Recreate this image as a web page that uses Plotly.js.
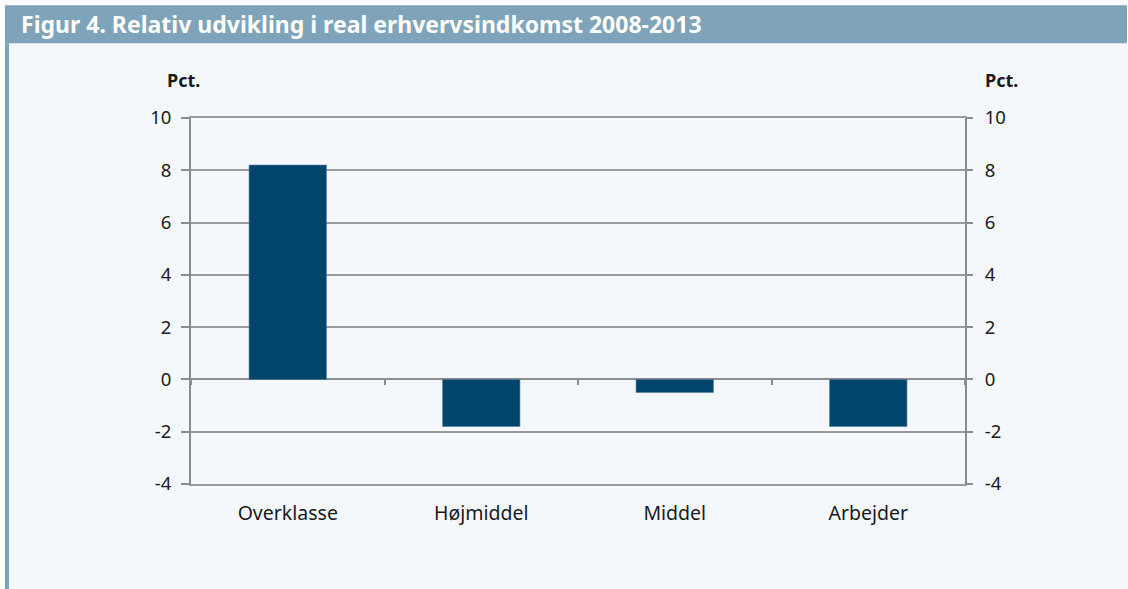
<!DOCTYPE html>
<html>
<head>
<meta charset="utf-8">
<script src="https://cdn.plot.ly/plotly-3.0.1.min.js"></script>
<style>
  html, body { margin: 0; padding: 0; background: #ffffff; }
  #chart { width: 1128px; height: 589px; }
</style>
</head>
<body>
<div id="chart"></div>
<script>
// ---- data ----
const categories = ["Overklasse", "Højmiddel", "Middel", "Arbejder"];
const values = [8.2, -1.8, -0.5, -1.8];
const tickVals = [-4, -2, 0, 2, 4, 6, 8, 10];
const titleText = "Figur 4. Relativ udvikling i real erhvervsindkomst 2008-2013";
const unitLabel = "Pct.";

// ---- styles ----
const W = 1128, H = 589;
const L = 191, R = 965, T = 117.8, B = 484.3;
const pw = R - L, ph = B - T;
const px = x => (x - L) / pw;          // pixel -> paper x
const py = y => (B - y) / ph;          // pixel -> paper y
const barColor = "#00456b";
const headerColor = "#7fa3b8";
const bgColor = "#f4f8fc";
const gridColor = "#9b9b9b";
const axisColor = "#8c8c8c";
const textColor = "#1a1a1a";
const fontFam = "'Noto Sans', Lato, sans-serif";

const traces = [
  {
    type: "bar",
    x: categories,
    y: values,
    width: 0.4,
    marker: { color: barColor, line: { color: "#4f7f9c", width: 0.6 } },
    hoverinfo: "x+y",
    xaxis: "x",
    yaxis: "y"
  },
  {
    type: "scatter",
    mode: "lines",
    x: categories,
    y: values,
    line: { color: "rgba(0,0,0,0)" },
    hoverinfo: "skip",
    showlegend: false,
    xaxis: "x2",
    yaxis: "y2"
  }
];

const yCommon = {
  range: [-4, 10],
  tickvals: tickVals,
  ticktext: tickVals.map(String),
  ticks: "outside",
  ticklen: 8,
  tickwidth: 1.6,
  tickcolor: axisColor,
  showline: true,
  linecolor: axisColor,
  linewidth: 2,
  tickfont: { family: fontFam, size: 18.5, color: textColor },
  fixedrange: true
};

const layout = {
  width: W,
  height: H,
  margin: { l: L, r: W - R, t: T, b: H - B, pad: 0 },
  paper_bgcolor: "#ffffff",
  plot_bgcolor: "rgba(0,0,0,0)",
  showlegend: false,
  font: { family: fontFam, color: textColor },
  xaxis: {
    type: "category",
    range: [-0.5, categories.length - 0.5],
    showgrid: false,
    showline: true,
    mirror: true,
    linecolor: gridColor,
    linewidth: 1.6,
    zeroline: false,
    ticks: "",
    ticklabelstandoff: 11,
    tickfont: { family: fontFam, size: 19.5, color: textColor },
    fixedrange: true
  },
  xaxis2: {
    type: "category",
    overlaying: "x",
    matches: "x",
    anchor: "free",
    position: (0 - (-4)) / 14,
    showgrid: false,
    showline: false,
    zeroline: false,
    showticklabels: false,
    ticks: "outside",
    tickson: "boundaries",
    ticklen: 5,
    tickwidth: 1.6,
    tickcolor: axisColor,
    fixedrange: true
  },
  yaxis: Object.assign({}, yCommon, {
    side: "left",
    showgrid: true,
    gridcolor: gridColor,
    gridwidth: 1.6,
    zeroline: true,
    zerolinecolor: axisColor,
    zerolinewidth: 2,
    ticklabelstandoff: 6
  }),
  yaxis2: Object.assign({}, yCommon, {
    side: "right",
    overlaying: "y",
    anchor: "x",
    ticklen: 6,
    showgrid: false,
    zeroline: false,
    ticklabelstandoff: 8
  }),
  shapes: [
    // light panel background
    { type: "rect", xref: "paper", yref: "paper", layer: "below",
      x0: px(9), x1: px(W + 2), y0: py(H + 2), y1: py(43),
      fillcolor: bgColor, line: { width: 0 } },
    // header band
    { type: "rect", xref: "paper", yref: "paper", layer: "below",
      x0: px(5), x1: px(1127), y0: py(43), y1: py(5),
      fillcolor: headerColor, line: { width: 0 } },
    // left border stripe
    { type: "rect", xref: "paper", yref: "paper", layer: "below",
      x0: px(5), x1: px(9), y0: py(H + 2), y1: py(43),
      fillcolor: headerColor, line: { width: 0 } }
  ],
  annotations: [
    { text: "<b>" + titleText + "</b>", xref: "paper", yref: "paper",
      x: px(19), y: py(24), xanchor: "left", yanchor: "middle",
      showarrow: false, font: { family: fontFam, size: 23, color: "#ffffff" } },
    { text: "<b>" + unitLabel + "</b>", xref: "paper", yref: "paper",
      x: px(183), y: py(80), xanchor: "center", yanchor: "middle",
      showarrow: false, font: { family: fontFam, size: 18, color: textColor } },
    { text: "<b>" + unitLabel + "</b>", xref: "paper", yref: "paper",
      x: px(1001), y: py(80), xanchor: "center", yanchor: "middle",
      showarrow: false, font: { family: fontFam, size: 18, color: textColor } }
  ],
  bargap: 0.6,
  hovermode: "closest"
};

Plotly.newPlot("chart", traces, layout, { displayModeBar: false });
</script>
</body>
</html>
